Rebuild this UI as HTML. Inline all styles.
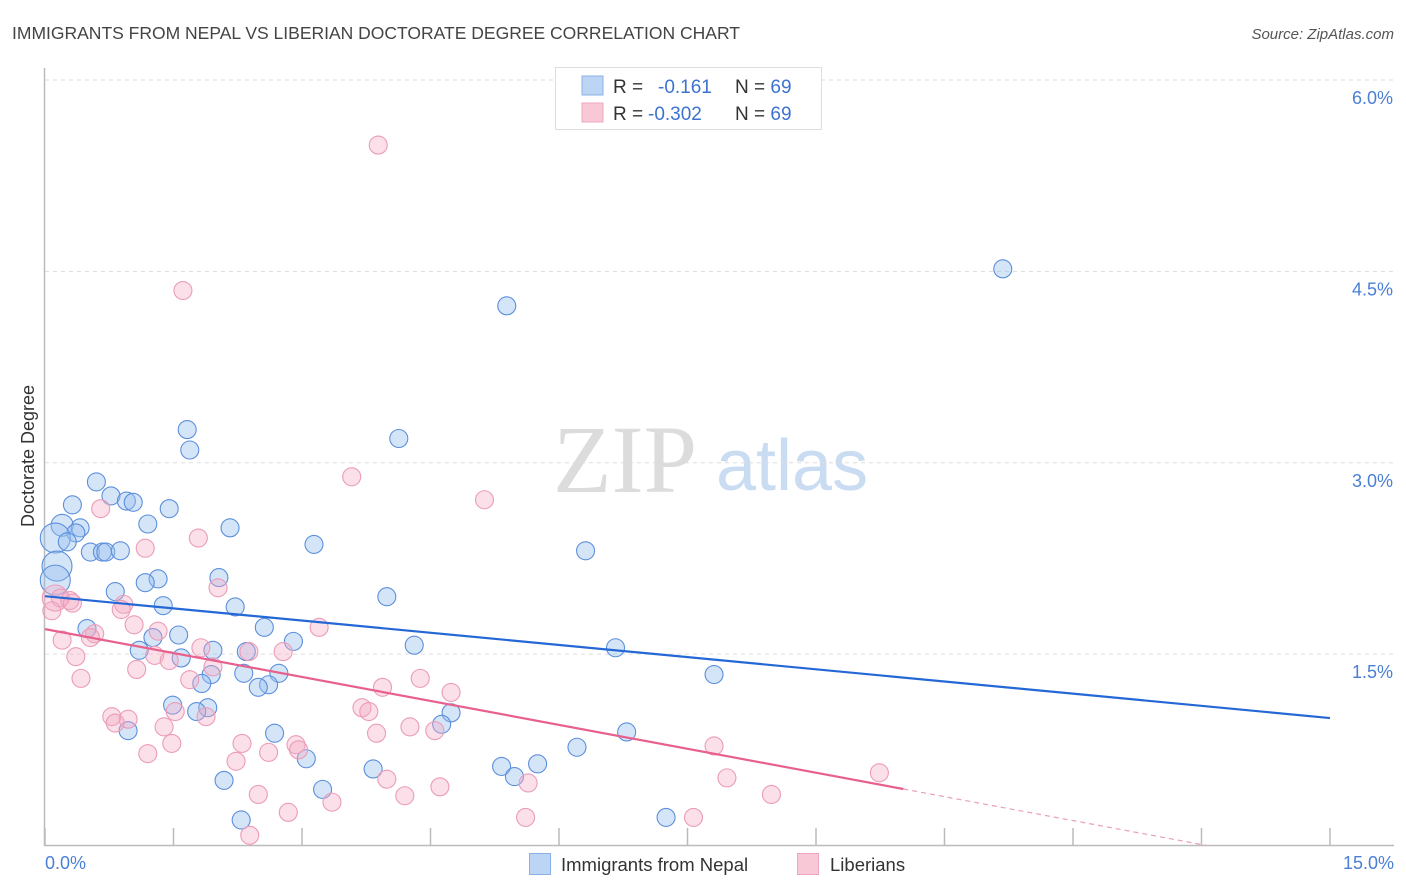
<!DOCTYPE html>
<html><head><meta charset="utf-8"><style>
body{margin:0;background:#fff;font-family:"Liberation Sans",sans-serif;}
#wrap{position:relative;width:1406px;height:892px;overflow:hidden}
</style></head><body>
<div id="wrap">
<svg id="svg" width="1406" height="892" xmlns="http://www.w3.org/2000/svg">
<text x="12" y="39" font-size="17.5" fill="#444">IMMIGRANTS FROM NEPAL VS LIBERIAN DOCTORATE DEGREE CORRELATION CHART</text>
<text x="1394" y="39" font-size="15" fill="#555" font-style="italic" text-anchor="end">Source: ZipAtlas.com</text>
<g>
<text x="553" y="492" font-family="Liberation Serif,serif" font-size="96" fill="#dcdcdc">ZIP</text>
<text x="716" y="490" font-size="72" fill="#c9dcf2">atlas</text>
</g>
<g id="grid"></g>
<g id="pts"></g>
<g id="lines"></g>
<text transform="translate(34,456) rotate(-90)" font-size="18" fill="#333" text-anchor="middle">Doctorate Degree</text>
<text x="45" y="869" font-size="18" fill="#4a7fd6">0.0%</text>
<text x="1394" y="869" font-size="18" fill="#4a7fd6" text-anchor="end">15.0%</text>
<g>
<rect x="555.5" y="67.5" width="266" height="62" fill="#fff" stroke="#ddd"/>
<rect x="582" y="76" width="21" height="19" fill="#bcd5f5" stroke="#8ab1e6"/>
<rect x="582" y="103" width="21" height="19" fill="#f9c8d7" stroke="#eda7bf"/>
<text x="613" y="93" font-size="19" fill="#333">R = <tspan x="658" fill="#3d73cf">-0.161</tspan><tspan x="735" fill="#333">N = </tspan><tspan fill="#3d73cf">69</tspan></text>
<text x="613" y="120" font-size="19" fill="#333">R = <tspan x="648" fill="#3d73cf">-0.302</tspan><tspan x="735" fill="#333">N = </tspan><tspan fill="#3d73cf">69</tspan></text>
</g>
<g>
<rect x="529.5" y="853.5" width="21" height="21" fill="#bcd5f5" stroke="#8ab1e6"/>
<text x="561" y="871" font-size="18.5" fill="#333">Immigrants from Nepal</text>
<rect x="797.5" y="853.5" width="21" height="21" fill="#f9c8d7" stroke="#eda7bf"/>
<text x="830" y="871" font-size="18.5" fill="#333">Liberians</text>
</g>
</svg>
</div>
<script>
const yTicks=[1.5,3.0,4.5,6.0];
const yTickLabels=["1.5%","3.0%","4.5%","6.0%"];
const xTicks=[0,1.5,3,4.5,6,7.5,9,10.5,12,13.5,15];
const nepalX=[11.18,5.39,4.13,1.66,1.69,0.60,0.77,0.95,1.03,0.32,1.45,0.20,0.41,1.20,2.16,0.36,0.12,0.26,3.14,0.53,0.67,0.71,0.88,6.31,0.14,0.12,2.03,1.32,1.17,0.82,3.99,1.38,2.22,2.56,0.49,1.56,1.26,2.90,4.31,6.66,1.10,1.96,2.35,1.59,2.32,2.73,1.94,7.81,1.83,2.61,2.49,1.49,1.90,1.77,4.74,4.63,0.97,2.68,6.79,6.21,3.05,5.75,5.33,3.83,5.48,2.09,3.24,2.29,7.25];
const nepalY=[4.52,4.23,3.19,3.26,3.10,2.85,2.74,2.70,2.69,2.67,2.64,2.51,2.49,2.52,2.49,2.45,2.41,2.38,2.36,2.30,2.30,2.30,2.31,2.31,2.19,2.08,2.10,2.09,2.06,1.99,1.95,1.88,1.87,1.71,1.70,1.65,1.63,1.60,1.57,1.55,1.53,1.53,1.52,1.47,1.35,1.35,1.34,1.34,1.27,1.26,1.24,1.10,1.08,1.05,1.04,0.95,0.90,0.88,0.89,0.77,0.68,0.64,0.62,0.60,0.54,0.51,0.44,0.20,0.22];
const nepalR=[9,9,9,9,9,9,9,9,9,9,9,11,9,9,9,9,15,9,9,9,9,9,9,9,15,15,9,9,9,9,9,9,9,9,9,9,9,9,9,9,9,9,9,9,9,9,9,9,9,9,9,9,9,9,9,9,9,9,9,9,9,9,9,9,9,9,9,9,9];
const libX=[3.89,1.61,3.58,5.13,0.65,1.79,1.17,2.02,0.12,0.18,0.29,0.08,0.92,0.89,0.32,3.20,1.04,0.58,0.20,0.53,1.32,1.82,2.78,2.38,1.28,0.36,1.96,1.45,1.07,1.69,0.42,4.38,3.94,4.74,3.70,3.78,0.78,0.97,1.52,1.88,0.82,1.39,4.26,3.87,4.55,2.30,1.48,2.93,2.96,7.81,2.61,1.20,2.23,9.74,7.96,3.99,4.61,2.49,4.20,5.64,8.48,3.35,2.84,5.61,7.57,2.39];
const libY=[5.49,4.35,2.89,2.71,2.64,2.41,2.33,2.02,1.94,1.94,1.92,1.84,1.89,1.85,1.90,1.71,1.73,1.66,1.61,1.63,1.68,1.55,1.52,1.52,1.49,1.48,1.40,1.45,1.38,1.30,1.31,1.31,1.24,1.20,1.08,1.05,1.01,0.99,1.05,1.01,0.96,0.93,0.93,0.88,0.90,0.80,0.80,0.79,0.75,0.78,0.73,0.72,0.66,0.57,0.53,0.52,0.46,0.40,0.39,0.49,0.40,0.34,0.26,0.22,0.22,0.08];
const libR=[9,9,9,9,9,9,9,9,13,9,9,9,9,9,9,9,9,9,9,9,9,9,9,9,9,9,9,9,9,9,9,9,9,9,9,9,9,9,9,9,9,9,9,9,9,9,9,9,9,9,9,9,9,9,9,9,9,9,9,9,9,9,9,9,9,9];
const nepalTrend=[1.954,0.999];   // y at x=0, y at x=15
const libTrend=[1.696,-0.18];     // y at x=0, y at x=15
const libTrendSolidEnd=10.02;

const X0=45,X1=1330,Y0=845.5,Y6=80;
const sx=v=>X0+(X1-X0)*v/15;
const sy=v=>Y0-(Y0-Y6)*v/6;
const NS="http://www.w3.org/2000/svg";
function mk(tag,attrs,parent){const e=document.createElementNS(NS,tag);for(const k in attrs)e.setAttribute(k,attrs[k]);parent.appendChild(e);return e;}
const grid=document.getElementById('grid'),pts=document.getElementById('pts'),lines=document.getElementById('lines');
yTicks.forEach((t,i)=>{
  const l=mk('line',{x1:45,x2:1394,y1:sy(t),y2:sy(t),stroke:'#ddd','stroke-dasharray':'4,4'},grid);
  
  
  const tx=mk('text',{x:1393,y:sy(t)+24,'font-size':18,fill:'#4a7fd6','text-anchor':'end'},grid);
  tx.textContent=yTickLabels[i];
  
  
});
const ax=mk('line',{x1:44.5,x2:44.5,y1:68,y2:846,stroke:'#bbb','stroke-width':1.5},grid);


const bx=mk('line',{x1:44,x2:1394,y1:845.5,y2:845.5,stroke:'#bbb','stroke-width':1.5},grid);


xTicks.forEach(t=>{
  const l=mk('line',{x1:sx(t),x2:sx(t),y1:828,y2:845,stroke:'#bbb','stroke-width':1.5},grid);
  
  
});
nepalX.forEach((v,i)=>{
  const c=mk('circle',{cx:sx(v),cy:sy(nepalY[i]),r:nepalR[i],fill:'rgba(150,190,238,0.4)',stroke:'#5c8fdc','stroke-width':1.1},pts);
  
  
});
libX.forEach((v,i)=>{
  const c=mk('circle',{cx:sx(v),cy:sy(libY[i]),r:libR[i],fill:'rgba(245,170,196,0.38)',stroke:'#eb9cb8','stroke-width':1.1},pts);
  
  
});
const nl=mk('line',{x1:sx(0),y1:sy(nepalTrend[0]),x2:sx(15),y2:sy(nepalTrend[1]),stroke:'#2468d6','stroke-width':2.2},lines);


const lf=x=>libTrend[0]+(libTrend[1]-libTrend[0])*x/15;
const ll=mk('line',{x1:sx(0),y1:sy(lf(0)),x2:sx(libTrendSolidEnd),y2:sy(lf(libTrendSolidEnd)),stroke:'#e8608c','stroke-width':2.2},lines);


const xz=libTrend[0]*15/(libTrend[0]-libTrend[1]);
const ld=mk('line',{x1:sx(libTrendSolidEnd),y1:sy(lf(libTrendSolidEnd)),x2:sx(xz),y2:sy(0),stroke:'#e8a0b8','stroke-width':1.2,'stroke-dasharray':'5,4'},lines);


</script>
</body></html>
